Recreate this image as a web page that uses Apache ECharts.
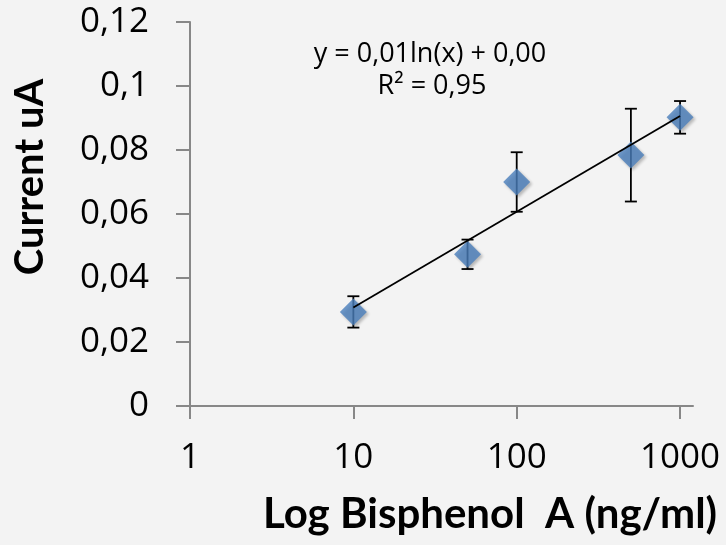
<!DOCTYPE html>
<html>
<head>
<meta charset="utf-8">
<script src="https://cdn.jsdelivr.net/npm/echarts@6/dist/echarts.min.js"></script>
<style>
  html, body { margin: 0; padding: 0; background: #f3f3f3; }
  #chart { width: 726px; height: 545px; }
</style>
</head>
<body>
<div id="chart"></div>
<script>
// Bisphenol A concentration (ng/ml) and measured current (uA)
const concentrations = [10, 50, 100, 500, 1000];
const currents = [0.0294, 0.0474, 0.0700, 0.0784, 0.0902];
// symmetric standard deviations for the error bars
const deviations = [0.0049, 0.0046, 0.0093, 0.0145, 0.0051];

// axis tick labels
const xTicks = [1, 10, 100, 1000];
const yMin = 0, yMax = 0.12, yStep = 0.02;

const xTitle = 'Log Bisphenol  A (ng/ml)';
const yTitle = 'Current uA';

// logarithmic least-squares fit: y = a*ln(x) + b
const lx = concentrations.map(Math.log);
const n = lx.length;
const mx = lx.reduce((s, v) => s + v, 0) / n;
const my = currents.reduce((s, v) => s + v, 0) / n;
let sxy = 0, sxx = 0, syy = 0;
for (let i = 0; i < n; i++) {
  sxy += (lx[i] - mx) * (currents[i] - my);
  sxx += (lx[i] - mx) ** 2;
  syy += (currents[i] - my) ** 2;
}
const slope = sxy / sxx;
const intercept = my - slope * mx;
const r2 = (sxy * sxy) / (sxx * syy);
const comma = (v) => v.toFixed(2).replace('.', ',');
const fitX = [concentrations[0], concentrations[n - 1]];
const fitData = fitX.map(x => [x, slope * Math.log(x) + intercept]);

const errData = concentrations.map((c, i) => [c, currents[i] - deviations[i], currents[i] + deviations[i]]);

const chart = echarts.init(document.getElementById('chart'), null, { renderer: 'canvas' });

const tickFont = '"Open Sans", Lato, sans-serif';
const titleFont = 'Lato, "Open Sans", sans-serif';

chart.setOption({
  backgroundColor: '#f3f3f3',
  animation: false,
  grid: { left: 190, right: 33, top: 22, bottom: 139, containLabel: false, outerBoundsMode: 'none' },
  xAxis: {
    type: 'log',
    logBase: 10,
    min: 1,
    max: 1200,
    axisLine: { show: true, onZero: false, lineStyle: { color: '#878787', width: 2 } },
    axisTick: { show: true, length: 13, customValues: xTicks, lineStyle: { color: '#878787', width: 2 } },
    axisLabel: { customValues: xTicks, margin: 35, color: '#000', fontFamily: tickFont, fontSize: 35,
      formatter: (v) => String(Math.round(v)) },
    splitLine: { show: false },
    minorTick: { show: false }
  },
  yAxis: {
    type: 'value',
    min: yMin,
    max: yMax,
    interval: yStep,
    axisLine: { show: true, onZero: false, lineStyle: { color: '#878787', width: 2 } },
    axisTick: { show: true, length: 14, lineStyle: { color: '#878787', width: 2 } },
    axisLabel: { margin: 41, color: '#000', fontFamily: tickFont, fontSize: 35,
      formatter: (v) => String(+v.toFixed(2)).replace('.', ',') },
    splitLine: { show: false }
  },
  series: [
    {
      type: 'custom',
      name: 'error',
      z: 1,
      data: errData,
      encode: { x: 0, y: [1, 2] },
      renderItem: (params, api) => {
        const x = api.value(0);
        const lo = api.coord([x, api.value(1)]);
        const hi = api.coord([x, api.value(2)]);
        const hw = 6;
        const st = { stroke: '#000', lineWidth: 1.8 };
        return {
          type: 'group',
          children: [
            { type: 'line', shape: { x1: hi[0], y1: hi[1], x2: lo[0], y2: lo[1] }, style: st },
            { type: 'line', shape: { x1: hi[0] - hw, y1: hi[1], x2: hi[0] + hw, y2: hi[1] }, style: st },
            { type: 'line', shape: { x1: lo[0] - hw, y1: lo[1], x2: lo[0] + hw, y2: lo[1] }, style: st }
          ]
        };
      }
    },
    {
      type: 'scatter',
      name: 'current',
      z: 2,
      symbol: 'diamond',
      symbolSize: 27,
      itemStyle: {
        color: '#4a7ebb',
        shadowColor: 'rgba(0,0,0,0.3)',
        shadowBlur: 3,
        shadowOffsetX: 2,
        shadowOffsetY: 2
      },
      data: concentrations.map((c, i) => [c, currents[i]])
    },
    {
      type: 'line',
      name: 'trend',
      z: 3,
      symbol: 'none',
      lineStyle: { color: '#000', width: 1.8 },
      data: fitData
    }
  ],
  graphic: [
    {
      type: 'text',
      x: 430, y: 54,
      style: {
        text: 'y = ' + comma(slope) + 'ln(x) + ' + comma(intercept),
        font: '27px "Open Sans", Lato, sans-serif',
        fill: '#000', align: 'center', verticalAlign: 'middle'
      }
    },
    {
      type: 'text',
      x: 432, y: 86,
      style: {
        text: 'R² = ' + comma(r2),
        font: '27px "Open Sans", Lato, sans-serif',
        fill: '#000', align: 'center', verticalAlign: 'middle'
      }
    },
    {
      type: 'text',
      x: 490, y: 514,
      style: {
        text: xTitle,
        font: 'bold 42px ' + titleFont,
        fill: '#000', align: 'center', verticalAlign: 'middle'
      }
    },
    {
      type: 'text',
      x: 30, y: 177,
      rotation: Math.PI / 2,
      style: {
        text: yTitle,
        font: 'bold 40px ' + titleFont,
        fill: '#000', align: 'center', verticalAlign: 'middle'
      }
    }
  ]
});
</script>
</body>
</html>
